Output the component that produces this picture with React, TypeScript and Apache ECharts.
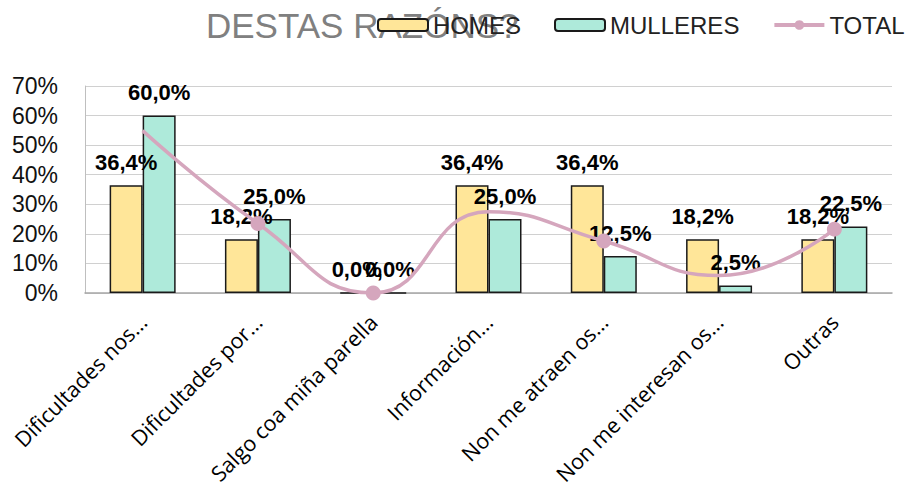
import React, { useEffect, useRef } from "react";
import * as echarts from "echarts";

const categories = [
  "Dificultades nos...",
  "Dificultades por...",
  "Salgo coa miña parella",
  "Información...",
  "Non me atraen os...",
  "Non me interesan os...",
  "Outras",
];
const homes = [36.4, 18.2, 0.0, 36.4, 36.4, 18.2, 18.2];
const mulleres = [60.0, 25.0, 0.0, 25.0, 12.5, 2.5, 22.5];
const total = [54.9, 23.5, 0.0, 27.5, 17.6, 5.9, 21.6];
const totalMarkerShown = [false, true, true, false, true, false, true];
const yTicks = [0, 10, 20, 30, 40, 50, 60, 70];

const fmt = (v: number) => v.toFixed(1).replace(".", ",") + "%";

export default function App() {
  const ref = useRef<HTMLDivElement>(null);
  useEffect(() => {
    document.body.style.margin = "0";
    if (!ref.current) return;
    const chart = echarts.init(ref.current, undefined, { renderer: "svg" });
    const labelStyle = {
      show: true,
      position: "top" as const,
      distance: 12,
      formatter: (p: any) => fmt(p.value),
      fontFamily: "Liberation Sans, Arial, sans-serif",
      fontWeight: "bold" as const,
      fontSize: 22,
      color: "#000",
    };
    chart.setOption({
      animation: false,
      backgroundColor: "#fff",
      title: {
        text: "DESTAS RAZÓNS?",
        left: 201,
        top: 3,
        z: 1,
        textStyle: {
          fontFamily: "Liberation Sans, Arial, sans-serif",
          fontSize: 35,
          fontWeight: "normal",
          color: "#808080",
        },
      },
      legend: {
        left: 377,
        top: 13,
        padding: 0,
        z: 5,
        itemWidth: 50,
        itemHeight: 12,
        itemGap: 33,
        textStyle: {
          fontFamily: "Liberation Sans, Arial, sans-serif",
          fontSize: 24,
          color: "#222",
        },
        data: [
          "HOMES",
          "MULLERES",
          { name: "TOTAL", itemStyle: { color: "#D5A6BD" }, lineStyle: { width: 4, color: "#D5A6BD" } },
        ],
      },
      grid: { left: 85, right: 17, top: 86, bottom: 210, containLabel: false },
      xAxis: {
        type: "category",
        data: categories,
        axisLine: { lineStyle: { color: "#a6a6a6", width: 1.5 } },
        axisTick: { show: false },
        axisLabel: {
          interval: 0,
          rotate: 45,
          margin: 25,
          fontFamily: "Open Sans, sans-serif",
          fontSize: 21.5,
          color: "#000",
        },
      },
      yAxis: {
        type: "value",
        min: yTicks[0],
        max: yTicks[yTicks.length - 1],
        interval: 10,
        axisLine: { show: true, lineStyle: { color: "#bfbfbf", width: 1 } },
        axisTick: { show: false },
        splitLine: { lineStyle: { color: "#d0d0d0", width: 1 } },
        axisLabel: {
          margin: 27,
          formatter: (v: number) => v + "%",
          fontFamily: "Liberation Sans, Arial, sans-serif",
          fontSize: 23,
          color: "#111",
        },
      },
      series: [
        {
          name: "HOMES",
          type: "bar",
          data: homes,
          barWidth: 33,
          barGap: "0%",
          itemStyle: { color: "#FFE699", borderColor: "#1a1a1a", borderWidth: 1.5 },
          label: labelStyle,
          z: 2,
        },
        {
          name: "MULLERES",
          type: "bar",
          data: mulleres,
          barWidth: 33,
          barGap: "0%",
          itemStyle: { color: "#AEEADA", borderColor: "#1a1a1a", borderWidth: 1.5 },
          label: labelStyle,
          z: 2,
        },
        {
          name: "TOTAL",
          type: "line",
          smooth: 0.5,
          data: total.map((v, i) => ({
            value: v,
            symbol: totalMarkerShown[i] ? "circle" : "none",
          })),
          symbol: "circle",
          symbolSize: 15,
          lineStyle: { color: "#D5A6BD", width: 3.5 },
          itemStyle: { color: "#D5A6BD" },
          label: { show: false },
          z: 3,
        },
      ],
    });
    return () => chart.dispose();
  }, []);
  return <div ref={ref} style={{ width: 909, height: 503 }} />;
}
